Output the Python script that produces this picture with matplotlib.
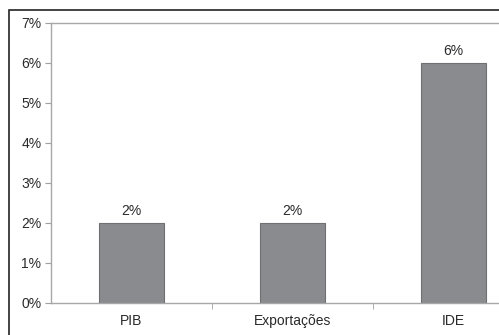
import matplotlib
matplotlib.use("Agg")
import matplotlib.pyplot as plt
from matplotlib.patches import Rectangle
from matplotlib.ticker import FuncFormatter, MultipleLocator

categories = ["PIB", "Exportações", "IDE"]
values = [2, 2, 6]  # percent
value_labels = ["2%", "2%", "6%"]

plt.rcParams["font.family"] = ["Liberation Sans", "DejaVu Sans"]
TEXT = "#2a2a2a"

W, H = 499, 335
fig = plt.figure(figsize=(W / 100, H / 100), dpi=100)
fig.patch.set_facecolor("white")

# outer chart frame (top and left edges visible)
fig.add_artist(Rectangle((9 / W, -0.1), 1.2, (H - 10) / H + 0.1,
                         transform=fig.transFigure, fill=False,
                         edgecolor="#222222", linewidth=1.2))

# plot area: runs past the right edge of the figure
left, right = 51, 534
top, bottom = 23, 303
ax = fig.add_axes([left / W, (H - bottom) / H, (right - left) / W, (bottom - top) / H])

x = range(len(categories))
ax.bar(x, values, width=0.4, color="#8a8b8f", edgecolor="#6f7074", linewidth=0.8, zorder=2)
for xi, v, lab in zip(x, values, value_labels):
    ax.text(xi, v + 0.12, lab, ha="center", va="bottom", fontsize=10, color=TEXT)

ax.set_xlim(-0.5, len(categories) - 0.5)
ax.set_ylim(0, 7)
ax.yaxis.set_major_locator(MultipleLocator(1))
ax.yaxis.set_major_formatter(FuncFormatter(lambda v, p: f"{v:.0f}%"))
ax.set_xticks(x)
ax.set_xticklabels(categories)
ax.set_xticks([0.5, 1.5], minor=True)
ax.tick_params(axis="x", which="major", length=0, pad=8, labelsize=10, colors=TEXT)
ax.tick_params(axis="x", which="minor", length=4, color="#a0a0a0", direction="out")
ax.tick_params(axis="y", length=4, labelsize=10, colors=TEXT, pad=3)
ax.tick_params(axis="y", color="#a0a0a0")

for s in ["left", "bottom", "top"]:
    ax.spines[s].set_color("#a8a8a8")
    ax.spines[s].set_linewidth(1.0)
ax.spines["right"].set_visible(False)

fig.savefig("out.png", dpi=100)
